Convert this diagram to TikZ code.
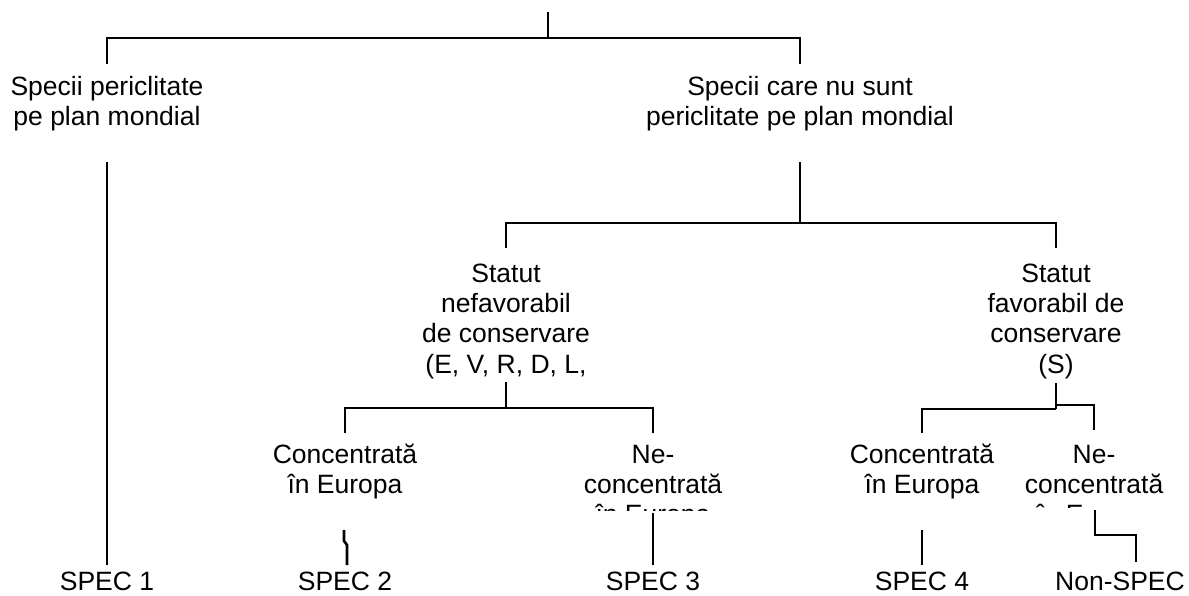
\documentclass[tikz,border=0pt]{standalone}
\usepackage{fontspec}
\setmainfont{Liberation Sans}
\begin{document}
\begin{tikzpicture}[x=1pt,y=-1pt,
  lbl/.style={inner sep=0pt,outer sep=0pt,align=center,anchor=north,
    font=\fontsize{26.5}{30.3}\selectfont},
  leaf/.style={inner sep=0pt,outer sep=0pt,anchor=base,
    font=\fontsize{26.5}{30.3}\selectfont},
  conn/.style={line width=2.6pt}]
\fill[white] (0,0) rectangle (1189,596);
\useasboundingbox (0,0) rectangle (1189,596);

% text nodes
\node[lbl] (pl) at (107,74) {\strut Specii periclitate\\pe plan mondial};
\node[lbl] (np) at (800,74) {\strut Specii care nu sunt\\periclitate pe plan mondial};
\node[lbl] (s1) at (506,261) {\strut Statut\\nefavorabil\\de conservare\\(E, V, R, D, L,};
\node[lbl] (s2) at (1056,261) {\strut Statut\\favorabil de\\conservare\\(S)};
\node[lbl] (c1) at (345,442) {\strut Concentrată\\în Europa};
\begin{scope}
  \clip (550,430) rectangle (760,510);
  \node[lbl] (n1) at (653,442) {\strut Ne-\\concentrată\\în Europa};
\end{scope}
\node[lbl] (c2) at (922,442) {\strut Concentrată\\în Europa};
\begin{scope}
  \clip (1000,430) rectangle (1189,507);
  \node[lbl] (n2) at (1094,442) {\strut Ne-\\concentrată\\în Europa};
\end{scope}
\node[leaf] (sp1) at (107,590) {SPEC 1};
\node[leaf] (sp2) at (345,590) {SPEC 2};
\node[leaf] (sp3) at (653,590) {SPEC 3};
\node[leaf] (sp4) at (922,590) {SPEC 4};
\node[leaf] (nsp) at (1120,590) {Non-SPEC};

% connector coordinates
\coordinate (root) at (548,12);
\coordinate (rootj) at (548,38);
\coordinate (plt) at (107,64);
\coordinate (plj) at (107,38);
\coordinate (npt) at (800,64);
\coordinate (npj) at (800,38);
\coordinate (plb) at (107,162);
\coordinate (sp1t) at (107,565);
\coordinate (npb) at (800,162);
\coordinate (npbj) at (800,223);
\coordinate (s1t) at (506,248);
\coordinate (s1j) at (506,223);
\coordinate (s2t) at (1056,248);
\coordinate (s2j) at (1056,223);
\coordinate (s1b) at (506,382);
\coordinate (s1bj) at (506,408);
\coordinate (c1t) at (345,433);
\coordinate (c1j) at (345,408);
\coordinate (n1t) at (653,433);
\coordinate (n1j) at (653,408);
\coordinate (n1b) at (653,513);
\coordinate (sp3t) at (653,565);
\coordinate (c1b) at (344,530);
\coordinate (c1k1) at (344,541);
\coordinate (c1k2) at (347,545);
\coordinate (sp2t) at (347,565);
\coordinate (s2b) at (1056,383);
\coordinate (s2bj) at (1056,409);
\coordinate (c2t) at (922,433);
\coordinate (c2j) at (922,409);
\coordinate (s2bk) at (1056,405);
\coordinate (n2j) at (1094,405);
\coordinate (n2t) at (1094,430);
\coordinate (c2b) at (922,530);
\coordinate (sp4t) at (922,565);
\coordinate (n2b) at (1095,510);
\coordinate (n2k1) at (1095,535);
\coordinate (n2k2) at (1136,535);
\coordinate (nspt) at (1136,562);

% connectors
\draw[conn] (root) -- (rootj);
\draw[conn] (plt) -- (plj) -- (npj) -- (npt);
\draw[conn] (plb) -- (sp1t);
\draw[conn] (npb) -- (npbj);
\draw[conn] (s1t) -- (s1j) -- (s2j) -- (s2t);
\draw[conn] (s1b) -- (s1bj);
\draw[conn] (c1t) -- (c1j) -- (n1j) -- (n1t);
\draw[conn] (n1b) -- (sp3t);
\draw[conn] (c1b) -- (c1k1) -- (c1k2) -- (sp2t);
\draw[conn] (s2b) -- (s2bj);
\draw[conn] (c2t) -- (c2j) -- (s2bj);
\draw[conn] (s2bk) -- (n2j) -- (n2t);
\draw[conn] (c2b) -- (sp4t);
\draw[conn] (n2b) -- (n2k1) -- (n2k2) -- (nspt);
\end{tikzpicture}
\end{document}
